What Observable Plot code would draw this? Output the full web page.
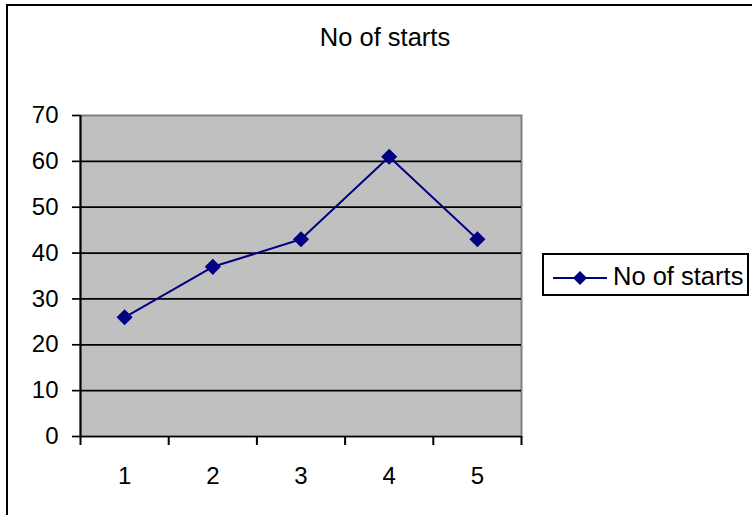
<!DOCTYPE html>
<html>
<head>
<meta charset="utf-8">
<script src="https://cdn.jsdelivr.net/npm/d3@7"></script>
<script src="https://cdn.jsdelivr.net/npm/@observablehq/plot@0.6"></script>
<style>
  html, body { margin: 0; padding: 0; background: #fff; overflow: hidden; }
  #wrap { position: relative; width: 752px; height: 515px; overflow: hidden; font-family: "Liberation Sans", Arial, sans-serif; }
  #outer { position: absolute; left: 6px; top: 4px; width: 900px; height: 700px; border: 2.5px solid #000; box-sizing: border-box; }
  #chart { position: absolute; left: 0; top: 0; }
  #chart svg text { font-size: 24px !important; font-family: "Liberation Sans", Arial, sans-serif !important; fill: #000; }
  #title { position: absolute; left: 0; width: 770px; top: 25px; text-align: center; font-size: 25.5px; line-height: 1; color: #000; }
  #legend { position: absolute; left: 542px; top: 253px; width: 207px; height: 43px; border: 2px solid #000; box-sizing: border-box; background: #fff; }
  #legend svg { position: absolute; left: 0; top: 0; }
  #legend span { position: absolute; left: 69px; top: 9px; font-size: 25.5px; line-height: 1; white-space: nowrap; color: #000; }
</style>
</head>
<body>
<div id="wrap">
  <div id="outer"></div>
  <div id="chart"></div>
  <div id="title"></div>
  <div id="legend"></div>
</div>
<script>
const titleText = "No of starts";
const seriesName = "No of starts";
const categories = [1, 2, 3, 4, 5];
const starts = [26, 37, 43, 61, 43];
const yTicks = [0, 10, 20, 30, 40, 50, 60, 70];

const data = categories.map((c, i) => ({cat: c, value: starts[i]}));
const boundaries = categories.map(c => c - 0.5).concat([categories[categories.length - 1] + 0.5]);
const lineColor = "#000080";

const chart = Plot.plot({
  width: 752,
  height: 515,
  marginLeft: 80,
  marginRight: 231,
  marginTop: 115,
  marginBottom: 79,
  style: {fontFamily: "'Liberation Sans', Arial, sans-serif", fontSize: "24px", color: "#000", background: "transparent"},
  x: {type: "linear", domain: [boundaries[0], boundaries[boundaries.length - 1]]},
  y: {domain: [0, 70]},
  marks: [
    Plot.frame({fill: "#c0c0c0", stroke: "#808080", strokeWidth: 2}),
    Plot.ruleY(yTicks.filter(t => t < 70), {stroke: "#000", strokeWidth: 1.7}),
    Plot.ruleX([boundaries[0]], {stroke: "#000", strokeWidth: 2}),
    Plot.axisY({ticks: yTicks, tickSize: 8, tickPadding: 14, strokeWidth: 1.7, fontSize: 24, label: null, tickFormat: d => String(d)}),
    Plot.axisX({ticks: boundaries, tickSize: 9, strokeWidth: 2, tickFormat: () => "", label: null}),
    Plot.axisX({ticks: categories, tickSize: 0, tickPadding: 30, fontSize: 24, label: null, tickFormat: d => String(d)}),
    Plot.line(data, {x: "cat", y: "value", stroke: lineColor, strokeWidth: 2}),
    Plot.dot(data, {x: "cat", y: "value", symbol: "diamond2", r: 6.3, fill: lineColor, stroke: lineColor})
  ]
});
document.getElementById("chart").appendChild(chart);
document.getElementById("title").textContent = titleText;

// legend
const leg = document.getElementById("legend");
const ls = d3.create("svg").attr("width", 70).attr("height", 40);
ls.append("line").attr("x1", 9).attr("x2", 63).attr("y1", 23).attr("y2", 23)
  .attr("stroke", lineColor).attr("stroke-width", 2);
ls.append("path").attr("d", d3.symbol(d3.symbolDiamond2, Math.PI * 6.3 * 6.3)())
  .attr("transform", "translate(36,23)").attr("fill", lineColor);
leg.appendChild(ls.node());
const sp = document.createElement("span");
sp.textContent = seriesName;
leg.appendChild(sp);
</script>
</body>
</html>
